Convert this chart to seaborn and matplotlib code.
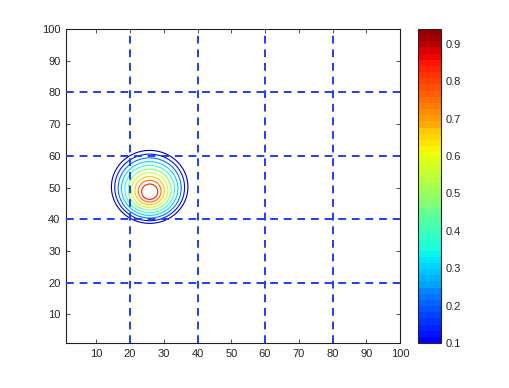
import numpy as np
import matplotlib
matplotlib.use("Agg")
import matplotlib.pyplot as plt
import seaborn as sns
from matplotlib.colors import Normalize
from matplotlib.cm import ScalarMappable

sns.set_style("white")
plt.rcParams['font.family'] = ['Liberation Sans', 'DejaVu Sans']

# field parameters: a tilted cone peak
peak_x = 25.8
peak_y = 48.3
peak_value = 1.05
radial_slope = 0.085
upward_tilt = 0.0142
contour_levels = [0.1, 0.183, 0.267, 0.35, 0.433, 0.517, 0.6, 0.683, 0.767, 0.85]
color_min, color_max = 0.1, 0.94
grid_positions = [20, 40, 60, 80]
tick_values = [10, 20, 30, 40, 50, 60, 70, 80, 90, 100]
cbar_ticks = [0.1, 0.2, 0.3, 0.4, 0.5, 0.6, 0.7, 0.8, 0.9]

xs = np.arange(1, 100.01, 0.2)
ys = np.arange(1, 100.01, 0.2)
X, Y = np.meshgrid(xs, ys)
R = np.hypot(X - peak_x, Y - peak_y)
Z = peak_value - radial_slope * R + upward_tilt * (Y - peak_y)
Z = np.clip(Z, 0, None)

fig = plt.figure(figsize=(5.1, 3.88), dpi=100)
ax = fig.add_axes([66/510, 45/388, 334/510, 314/388])
cax = fig.add_axes([418/510, 45/388, 23/510, 314/388])

cmap = plt.get_cmap('jet', 64)
contour_norm = Normalize(0.05, 0.96)
ax.contour(X, Y, Z, levels=contour_levels, cmap=cmap, norm=contour_norm, linewidths=0.8, zorder=2)

for g in grid_positions:
    ax.axvline(g, color='#1f3ff0', ls=(0, (4, 3)), lw=1.4, zorder=3)
    ax.axhline(g, color='#1f3ff0', ls=(0, (4, 3)), lw=1.4, zorder=3)

ax.set_xlim(1, 100)
ax.set_ylim(1, 100)
ax.set_xticks(tick_values)
ax.set_yticks(tick_values)
ax.tick_params(direction='in', length=3, width=0.6, labelsize=8, top=True, right=True,
               bottom=True, left=True, color='#333333', pad=4)
for sp in ax.spines.values():
    sp.set_color('#222222')
    sp.set_linewidth(0.8)
    sp.set_visible(True)

bar_norm = Normalize(-0.02, 0.96)
sm = ScalarMappable(norm=bar_norm, cmap=cmap)
cb = fig.colorbar(sm, cax=cax, boundaries=np.linspace(color_min, color_max, 52))
cb.set_ticks(cbar_ticks)
cb.ax.set_ylim(color_min, color_max)
cb.ax.tick_params(direction='in', length=3, width=0.6, labelsize=8, left=True, right=True)
cb.outline.set_linewidth(0.8)

fig.savefig("out.png", dpi=100)
